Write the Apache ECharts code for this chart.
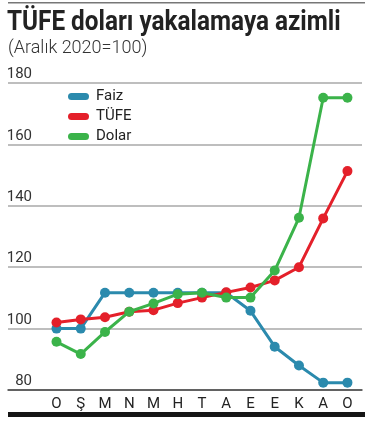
<!DOCTYPE html>
<html><head><meta charset="utf-8">
<script src="https://cdn.jsdelivr.net/npm/echarts@6/dist/echarts.min.js"></script>
<style>html,body{margin:0;padding:0;background:#fff}#c{width:373px;height:421px}</style>
</head><body><div id="c"></div>
<script>
const months = ['O','Ş','M','N','M','H','T','A','E','E','K','A','O'];
const faiz  = [100, 100, 111.7, 111.7, 111.7, 111.7, 111.7, 111.7, 105.8, 94.1, 88.0, 82.4, 82.4];
const tufe  = [102.0, 103.0, 103.7, 105.5, 106.0, 108.3, 110.1, 111.8, 113.4, 115.7, 120.0, 135.9, 151.3];
const dolar = [95.7, 91.7, 98.9, 105.5, 108.2, 111.2, 111.7, 110.1, 110.1, 118.9, 136.1, 175.2, 175.2];
const yTicks = [80, 100, 120, 140, 160, 180];

const pts = arr => arr.map((v, i) => [i, v]);
const chart = echarts.init(document.getElementById('c'), null, {renderer: 'canvas'});
const FONT = 'Roboto';
const mk = (name, data, color, z) => ({
  name, type: 'line', data: pts(data), z,
  symbol: 'circle', symbolSize: 10, showSymbol: true,
  lineStyle: {color, width: 3}, itemStyle: {color},
  emphasis: {disabled: true}, animation: false
});
chart.setOption({
  animation: false,
  textStyle: {fontFamily: FONT},
  grid: {left: 8, right: 11, top: 83, bottom: 31, containLabel: false},
  xAxis: {
    type: 'value', min: -2, max: 12.6, interval: 1,
    axisLine: {show: true, lineStyle: {color: '#444', width: 1.5}},
    axisTick: {show: false}, splitLine: {show: false},
    axisLabel: {
      color: '#222', fontSize: 15, margin: 7, fontFamily: FONT,
      showMaxLabel: false, showMinLabel: true,
      formatter: v => (v >= 0 && v < months.length && Number.isInteger(v)) ? months[v] : ''
    }
  },
  yAxis: {
    type: 'value', min: yTicks[0], max: yTicks[yTicks.length - 1], interval: 20,
    axisLine: {show: false}, axisTick: {show: false},
    splitLine: {show: true, lineStyle: {color: '#a9a9a9', width: 1.5}},
    axisLabel: {
      inside: true, margin: 24, align: 'right', verticalAlign: 'bottom',
      color: '#333', fontSize: 15, fontFamily: FONT, padding: [0, 0, 1, 0]
    }
  },
  legend: {
    orient: 'vertical', left: 63, top: 84, itemGap: 5,
    itemWidth: 21, itemHeight: 7,
    icon: 'path://M3.5,0 H17.5 A3.5,3.5 0 0 1 17.5,7 H3.5 A3.5,3.5 0 0 1 3.5,0 Z',
    textStyle: {fontSize: 15, color: '#222', fontFamily: FONT, padding: [0, 0, 0, 2]},
    data: ['Faiz', 'TÜFE', 'Dolar'], selectedMode: false
  },
  series: [
    mk('Faiz', faiz, '#2b8aad', 3),
    mk('TÜFE', tufe, '#e4202a', 4),
    mk('Dolar', dolar, '#3bb34a', 5)
  ],
  graphic: [
    {type: 'rect', left: 8, top: 2, shape: {width: 357, height: 1.5}, style: {fill: '#777'}},
    {type: 'text', x: 7, y: 10, scaleX: 0.9, style: {text: 'TÜFE doları yakalamaya azimli', font: 'bold 27px Roboto', fill: '#222'}},
    {type: 'text', x: 8, y: 39, style: {text: '(Aralık 2020=100)', font: '300 18px Roboto', fill: '#333'}},
    {type: 'rect', left: 8, top: 412, shape: {width: 357, height: 5}, style: {fill: '#151515'}}
  ]
});
</script></body></html>
